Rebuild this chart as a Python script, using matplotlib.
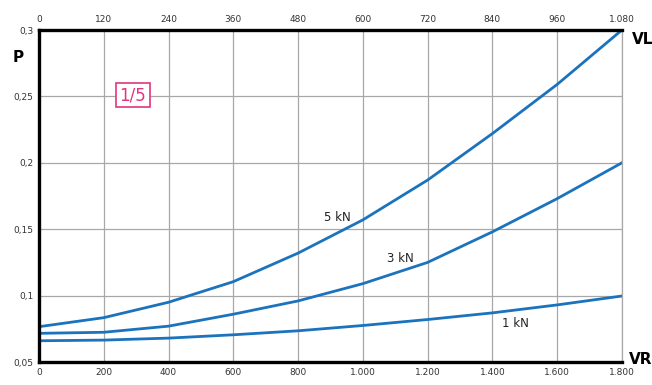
import matplotlib.pyplot as plt
import numpy as np

vr = np.array([0, 200, 400, 600, 800, 1000, 1200, 1400, 1600, 1800])
p_1kn = np.array([0.066, 0.0665, 0.068, 0.0705, 0.0735, 0.0775, 0.082, 0.087, 0.093, 0.0997])
p_3kn = np.array([0.0716, 0.0724, 0.077, 0.086, 0.096, 0.109, 0.125, 0.148, 0.173, 0.2])
p_5kn = np.array([0.0766, 0.0834, 0.095, 0.1105, 0.132, 0.157, 0.187, 0.222, 0.259, 0.3])

vl_ticks = [0, 120, 240, 360, 480, 600, 720, 840, 960, 1080]
p_ticks = [0.05, 0.1, 0.15, 0.2, 0.25, 0.3]
p_labels = ['0,05', '0,1', '0,15', '0,2', '0,25', '0,3']


def thousands(v):
    return f'{int(v):,}'.replace(',', '.')


fig = plt.figure(figsize=(6.52, 3.85), dpi=100)
ax = fig.add_axes([0.0598, 0.0597, 0.894, 0.8623])

blue = '#1b73bd'
ax.plot(vr, p_1kn, color=blue, lw=2)
ax.plot(vr, p_3kn, color=blue, lw=2)
ax.plot(vr, p_5kn, color=blue, lw=2)

ax.set_xlim(0, 1800)
ax.set_ylim(0.05, 0.3)
ax.set_xticks(vr)
ax.set_xticklabels([thousands(v) for v in vr])
ax.set_yticks(p_ticks)
ax.set_yticklabels(p_labels)
ax.grid(True, color='#a8a8a8', lw=0.9)
ax.set_axisbelow(True)

for s in ['left', 'bottom', 'top']:
    ax.spines[s].set_linewidth(2.4)
    ax.spines[s].set_color('black')
ax.spines['right'].set_color('#a8a8a8')
ax.spines['right'].set_linewidth(0.9)

ax.tick_params(axis='both', labelsize=6.5, labelcolor='#333333', length=2, width=1.5, direction='inout', pad=3)

top = ax.twiny()
top.set_xlim(0, 1080)
top.set_xticks(vl_ticks)
top.set_xticklabels([thousands(v) for v in vl_ticks])
top.tick_params(axis='x', labelsize=6.5, labelcolor='#333333', length=2, width=1.5, direction='inout', pad=3)
for s in top.spines.values():
    s.set_visible(False)

# curve labels
ax.text(920, 0.159, '5 kN', fontsize=8.5, ha='center', va='center', color='#222222')
ax.text(1115, 0.128, '3 kN', fontsize=8.5, ha='center', va='center', color='#222222')
ax.text(1470, 0.079, '1 kN', fontsize=8.5, ha='center', va='center', color='#222222')

ax.text(290, 0.251, '1/5', fontsize=12, ha='center', va='center', color='#e0357f',
        bbox=dict(boxstyle='square,pad=0.2', fc='white', ec='#e0357f', lw=1.2))

fig.text(18 / 652, 1 - 58 / 385, 'P', fontsize=11, fontweight='bold', ha='center', va='center')
fig.text(632 / 652, 1 - 40 / 385, 'VL', fontsize=11, fontweight='bold', ha='left', va='center')
fig.text(629 / 652, 1 - 360 / 385, 'VR', fontsize=11, fontweight='bold', ha='left', va='center')

fig.savefig('out.png', dpi=100)
